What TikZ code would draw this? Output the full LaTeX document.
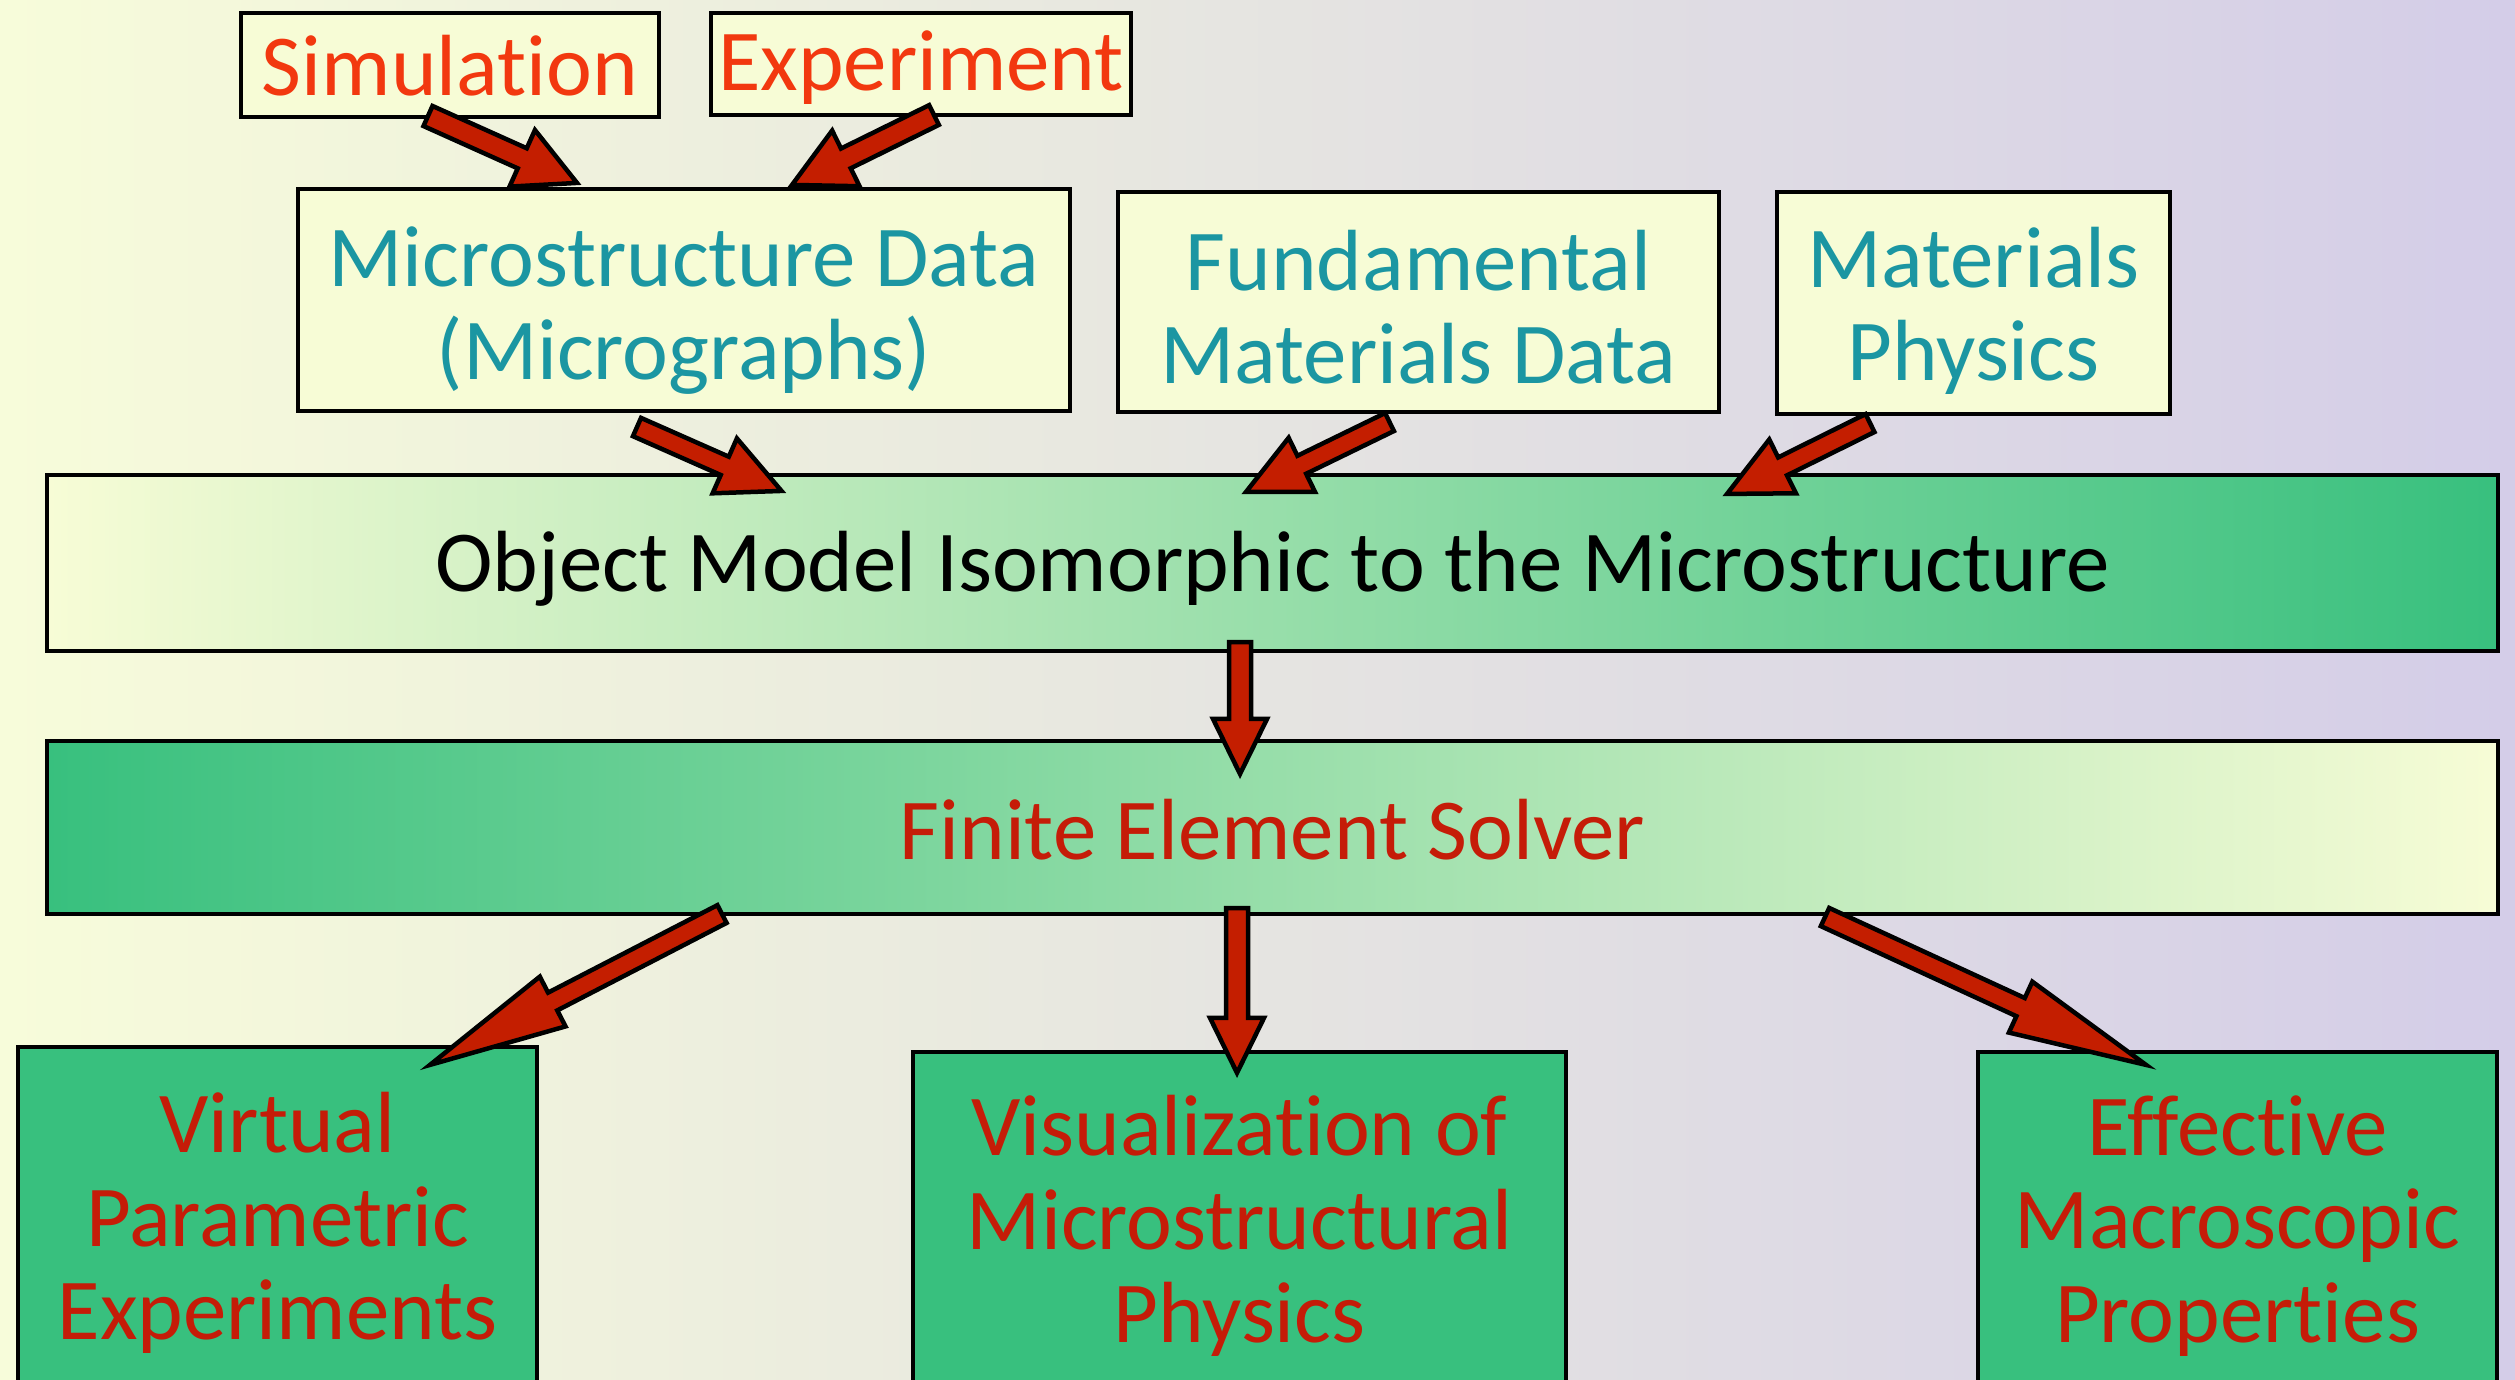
\documentclass[tikz,border=0pt]{standalone}
\usepackage{fontspec}
\setmainfont{Carlito}[Ligatures=NoCommon]
\usetikzlibrary{calc}
\definecolor{bgl}{HTML}{F7FCDA}
\definecolor{bgr}{HTML}{D4CDE8}
\definecolor{boxy}{HTML}{F7FCD6}
\definecolor{boxg}{HTML}{38C07E}
\definecolor{midg}{HTML}{B2E4B3}
\definecolor{torange}{HTML}{F2380F}
\definecolor{tteal}{HTML}{1B96A2}
\definecolor{tred}{HTML}{C51C08}
\definecolor{arrred}{HTML}{C41E00}
\newcommand\blkarr[5]{%
  \path ($(#2)!#3!(#1)$) coordinate (ab);
  \draw[arrsty] ($(#1)!#5!90:(#2)$) -- ($(ab)!#5!90:(#2)$) -- ($(ab)!#4!90:(#2)$) -- (#2)
     -- ($(ab)!#4!-90:(#2)$) -- ($(ab)!#5!-90:(#2)$) -- ($(#1)!#5!-90:(#2)$) -- cycle;}
\tikzset{
  lbox/.style={draw=black, line width=0.04cm, inner sep=0pt},
  txt/.style={inner sep=0pt, align=center, font=\fontsize{24.7}{26.5}\selectfont},
  arrsty/.style={draw=black, fill=arrred, line width=0.045cm, line join=miter}
}
\begin{document}
\begin{tikzpicture}[x=0.01cm, y=-0.01cm]
\useasboundingbox (0,0) rectangle (2515,1380);
\fill[left color=bgl, right color=bgr] (0,0) rectangle (2515,1380);
\clip (0,0) rectangle (2515,1380);
% top boxes
\node[lbox, fill=boxy, minimum width=4.18cm, minimum height=1.04cm] (sim) at (450,65) {};
\node[txt, text=torange] (simtxt) at ($(sim.center)+(0,1)$) {Simulation};
\node[lbox, fill=boxy, minimum width=4.20cm, minimum height=1.02cm] (exp) at (921,64) {};
\node[txt, text=torange] (exptxt) at ($(exp.center)+(0,4)$) {Experiment};
\node[lbox, fill=boxy, minimum width=7.72cm, minimum height=2.22cm] (micro) at (684,300) {};
\node[txt, text=tteal] (microtxt) at ($(micro.center)+(0,11)$) {Microstructure Data\\(Micrographs)};
\node[lbox, fill=boxy, minimum width=6.01cm, minimum height=2.20cm] (fund) at (1418.5,302) {};
\node[txt, text=tteal] (fundtxt) at ($(fund.center)+(0,5)$) {Fundamental\\Materials Data};
\node[lbox, fill=boxy, minimum width=3.93cm, minimum height=2.22cm] (phys) at (1973.5,303) {};
\node[txt, text=tteal] (phystxt) at ($(phys.center)+(0,8)$) {Materials\\Physics};
% wide boxes
\node[lbox, left color=boxy, middle color=midg, right color=boxg, minimum width=24.49cm, minimum height=1.76cm] (om) at (1272.5,563) {};
\node[txt, text=black] (omtxt) at ($(om.center)+(0,6)$) {Object Model Isomorphic to the Microstructure};
\node[lbox, left color=boxg, middle color=midg, right color=boxy, minimum width=24.49cm, minimum height=1.73cm] (fes) at (1272.5,827.5) {};
\node[txt, text=tred] (festxt) at ($(fes.center)+(0,2)$) {Finite Element Solver};
% bottom boxes
\node[lbox, fill=boxg, minimum width=5.19cm, minimum height=3.46cm] (virt) at (277.5,1220) {};
\node[txt, text=tred] (virttxt) at ($(virt.center)+(0,3)$) {Virtual\\Parametric\\Experiments};
\node[lbox, fill=boxg, minimum width=6.53cm, minimum height=3.48cm] (vis) at (1239.5,1226) {};
\node[txt, text=tred] (vistxt) at (vis.center) {Visualization of\\Microstructural\\Physics};
\node[lbox, fill=boxg, minimum width=5.19cm, minimum height=3.48cm] (eff) at (2237.5,1226) {};
\node[txt, text=tred] (efftxt) at (eff.center) {Effective\\Macroscopic\\Properties};
% arrow end points
\coordinate (t1) at ($(sim.south)+(-22,-3)$);
\coordinate (h1) at ($(micro.north)+(-107,-4)$);
\coordinate (t2) at ($(exp.south)+(13,-2)$);
\coordinate (h2) at ($(micro.north)+(108,-2)$);
\coordinate (t3) at ($(micro.south)+(-47,14)$);
\coordinate (h3) at ($(om.north)+(-491,18)$);
\coordinate (t4) at ($(fund.south)+(-29,8)$);
\coordinate (h4) at ($(om.north)+(-26.5,19)$);
\coordinate (t5) at ($(phys.south)+(-103.5,7)$);
\coordinate (h5) at ($(om.north)+(454.5,21)$);
\coordinate (t6) at ($(om.south)+(-32.5,-11)$);
\coordinate (h6) at ($(fes.north)+(-32.5,35)$);
\coordinate (t7) at ($(fes.south)+(-550.5,-2)$);
\coordinate (h7) at ($(virt.north)+(152.5,20)$);
\coordinate (t8) at ($(fes.south)+(-35.5,-8)$);
\coordinate (h8) at ($(vis.north)+(-2.5,23)$);
\coordinate (t9) at ($(fes.south)+(552.5,1)$);
\coordinate (h9) at ($(eff.north)+(-91.5,15)$);
% arrows
\blkarr{t1}{h1}{0.6cm}{0.31cm}{0.11cm}
\blkarr{t2}{h2}{0.6cm}{0.31cm}{0.11cm}
\blkarr{t3}{h3}{0.62cm}{0.30cm}{0.10cm}
\blkarr{t4}{h4}{0.62cm}{0.30cm}{0.10cm}
\blkarr{t5}{h5}{0.62cm}{0.30cm}{0.10cm}
\blkarr{t6}{h6}{0.55cm}{0.27cm}{0.11cm}
\blkarr{t7}{h7}{1.38cm}{0.28cm}{0.10cm}
\blkarr{t8}{h8}{0.55cm}{0.27cm}{0.11cm}
\blkarr{t9}{h9}{1.38cm}{0.28cm}{0.10cm}
\end{tikzpicture}
\end{document}
